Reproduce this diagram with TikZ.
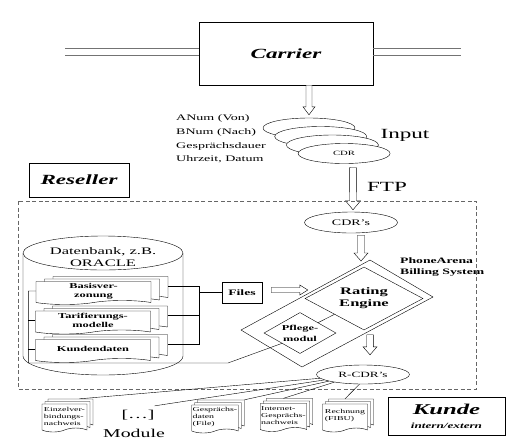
\documentclass[tikz,border=0pt]{standalone}
\usepackage{fontspec}
\setmainfont{Liberation Serif}[FakeStretch=1.65]
\usetikzlibrary{shapes.geometric,shapes.symbols,shadows,calc}

\tikzset{
  box/.style={draw, rectangle, inner sep=0pt},
  record/.style={draw, ellipse, fill=white, inner sep=0pt, minimum width=92pt, minimum height=20pt},
  page/.style={draw, fill=white, tape, tape bend top=none, tape bend height=4pt, inner sep=1pt, align=left},
  smallstack/.style={page, copy shadow={shadow xshift=6pt, shadow yshift=5pt}, copy shadow={shadow xshift=3pt, shadow yshift=2.5pt},
    minimum width=45pt, minimum height=28pt, font=\fontsize{6}{7}\selectfont},
  bigstack/.style={page, copy shadow={shadow xshift=17pt, shadow yshift=5pt}, copy shadow={shadow xshift=8.5pt, shadow yshift=2.5pt},
    minimum width=115pt, minimum height=23pt, align=center, font=\fontsize{7.5}{9}\selectfont\bfseries},
  hollow/.style n args={3}{fill=white, to path={let \p1=(\tikztostart), \p2=(\tikztotarget) in
    ($(\p1)!#1!90:(\p2)$) -- ($(\p2)!#3!(\p1)!#1!-90:(\p1)$) -- ($(\p2)!#3!(\p1)!#2!-90:(\p1)$) -- (\p2)
    -- ($(\p2)!#3!(\p1)!#2!90:(\p1)$) -- ($(\p2)!#3!(\p1)!#1!90:(\p1)$) -- ($(\p1)!#1!-90:(\p2)$) -- cycle}},
  trunk/.style={draw=black!55},
  resellerframe/.style={draw=black!60, dash pattern=on 4pt off 2.5pt}
}

\begin{document}
\begin{tikzpicture}[x=1pt,y=-1pt]
% Parameters
\def\stackX{309}
\def\stackY{128}
\def\stackDX{11.7}
\def\stackDY{8.5}

\useasboundingbox (0,0) rectangle (526,445);

% Carrier
\node[box, minimum width=174pt, minimum height=63pt, font=\fontsize{14}{16}\selectfont\bfseries\itshape] (carrier) at (286,53.5){Carrier};
\coordinate (lineL) at (65,51.5);
\coordinate (lineR) at (461,51.5);
\foreach \s in {-3.5,3.5}
{
\draw[trunk] ([yshift=\s pt]carrier.west |- lineL) -- ([yshift=\s pt]lineL);
\draw[trunk] ([yshift=\s pt]carrier.east |- lineR) -- ([yshift=\s pt]lineR);
}

% CDR input
\foreach \i/\n in {0/A,1/B,2/C}
{
\node[record] (cdr\n) at (\stackX+\i*\stackDX,\stackY+\i*\stackDY){};
}
\node[record, font=\fontsize{6.5}{8}\selectfont] (cdrD) at (\stackX+3*\stackDX,\stackY+3*\stackDY){CDR};
\draw[hollow={3pt}{6pt}{8pt}] (carrier.south -| cdrA) to ([yshift=3pt]cdrA.north);
\node[anchor=west, align=left, inner sep=0pt, font=\fontsize{8.5}{13.6}\selectfont] (fields) at (176,139){ANum (Von)\\BNum (Nach)\\Gesprächsdauer\\Uhrzeit, Datum};
\node[font=\fontsize{14}{16}\selectfont] (input) at (405,135){Input};

% FTP
\node[record, minimum width=93pt, minimum height=21pt, font=\fontsize{8.5}{10}\selectfont] (cdrs) at (351,222.5){CDR's};
\draw[hollow={3.5pt}{7.5pt}{9pt}] ([shift={(9pt,-4pt)}]cdrD.south) to ([shift={(2pt,2pt)}]cdrs.north);
\node[font=\fontsize{14}{16}\selectfont] (ftp) at (387,187){FTP};

% Reseller
\node[box, minimum width=100pt, minimum height=34pt, font=\fontsize{14}{16}\selectfont\bfseries\itshape] (reseller) at (79,180){Reseller};
\draw[resellerframe] (18,201) rectangle (476,389);

% Billing system
\coordinate (billT) at (370,260);
\coordinate (billR) at (433,297);
\coordinate (billB) at (302,367);
\coordinate (billL) at (241,330);
\draw (billT) -- (billR) -- (billB) -- (billL) -- cycle;
\node[diamond, draw, aspect=2, inner sep=0pt, minimum width=118pt, minimum height=63pt, align=center, font=\fontsize{10}{12}\selectfont\bfseries] (rating) at (364,298.5){Rating\\Engine};
\node[diamond, draw, aspect=1.75, inner sep=0pt, minimum width=72pt, minimum height=41pt, align=center, font=\fontsize{7.5}{11}\selectfont\bfseries] (pflege) at (300,333){Pflege-\\modul};
\draw (pflege.north east) -- (rating.south west);
\node[anchor=west, align=left, inner sep=0pt, font=\fontsize{8.3}{11}\selectfont\bfseries] (phonearena) at (400,267.5){PhoneArena\\Billing System};
\draw[hollow={3.5pt}{7pt}{8pt}] ([shift={(10pt,-2pt)}]cdrs.south) to ([shift={(-9pt,-1pt)}]billT);

% Database
\draw (23,253) -- (23,356) arc[start angle=180, end angle=360, x radius=80pt, y radius=19pt] -- (183,253);
\draw (103,253) ellipse[x radius=80pt, y radius=17pt];
\node[align=center, inner sep=0pt, font=\fontsize{10}{12}\selectfont] (dbname) at (103,257){Datenbank, z.B.\\ORACLE};
\node[bigstack] (basis) at (93.5,291){Basisver-\\zonung};
\node[bigstack] (tarif) at (93,320.5){Tarifierungs-\\modelle};
\node[bigstack] (kunden) at (93,349){Kundendaten};

% Files
\node[box, minimum width=40pt, minimum height=21pt, font=\fontsize{8.3}{10}\selectfont\bfseries] (files) at (242,292.5){Files};
\draw ([shift={(17pt,5pt)}]basis.east) -| ([shift={(48.5pt,5pt)}]kunden.east) -- ([shift={(17pt,5pt)}]kunden.east);
\draw ([shift={(17pt,5pt)}]tarif.east) -- ++(31,0);
\draw (files.west) -- ++(-23,0);
\draw[hollow={2.5pt}{5pt}{8pt}] ([shift={(9pt,2.5pt)}]files.east) to ([shift={(3pt,8.5pt)}]rating.west);

% Pflegemodul link
\coordinate (bend) at (228,363);
\draw (basis.west) -- ++(-7.5,0) |- (bend) -- (pflege.south west);
\draw (tarif.west) -- ++(-7,0);
\draw (kunden.west) -- ++(-7,0);

% R-CDR's
\node[record, minimum width=93pt, minimum height=19pt, font=\fontsize{8}{10}\selectfont] (rcdr) at (363,374.5){R-CDR's};
\draw[hollow={3.3pt}{7pt}{8pt}] ([shift={(6pt,-4.5pt)}]rating.south) to ([shift={(7pt,10pt)}]rcdr.north);

% Output modules
\node[smallstack] (einzel) at (64.5,416){Einzelver-\\bindungs-\\nachweis};
\node[inner sep=0pt, font=\fontsize{12}{14}\selectfont] (dots) at (138,415){[\dots]};
\node[inner sep=0pt, font=\fontsize{12}{14}\selectfont] (module) at (134,433){Module};
\node[smallstack] (gespraech) at (215,417){Gesprächs-\\daten\\(File)};
\node[smallstack] (internet) at (283.5,415.5){Internet-\\Gesprächs-\\nachweis};
\node[smallstack] (rechnung) at (345,416){Rechnung\\(FIBU)};
\draw (rcdr.185) -- ([shift={(15pt,5pt)}]einzel.north);
\draw (rcdr.188) -- ([yshift=4pt]dots.north east);
\draw (rcdr.191) -- ([shift={(6pt,5pt)}]gespraech.north east);
\draw (rcdr.195) -- ([yshift=5pt]internet.north);
\draw (rcdr.250) -- ([yshift=5pt]rechnung.north);

% Kunde
\node[box, minimum width=117pt, minimum height=38pt, align=center, font=\bfseries\itshape] (kunde) at (446.5,416){{\fontsize{15}{15}\selectfont Kunde}\\[2pt]{\fontsize{8}{9}\selectfont intern/extern}};

\end{tikzpicture}
\end{document}
